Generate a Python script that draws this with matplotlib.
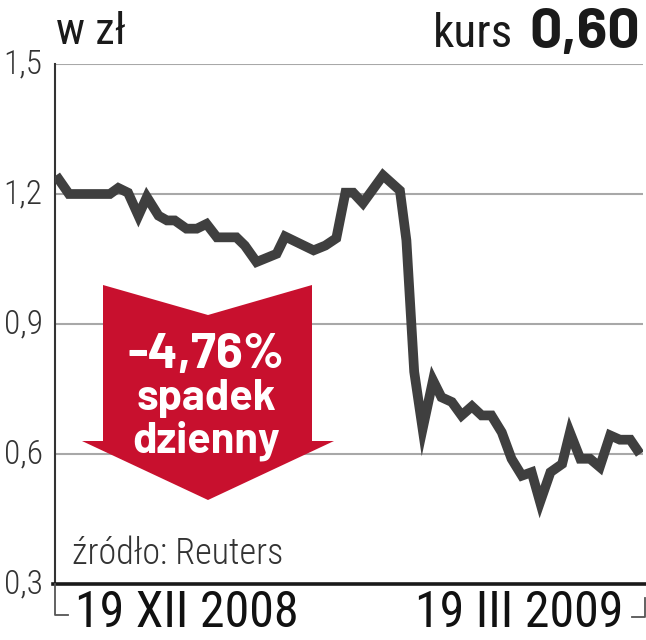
import matplotlib
matplotlib.use("Agg")
import matplotlib.pyplot as plt
from matplotlib.patches import Polygon
from matplotlib.lines import Line2D

# ---- data ----
days = [0, 2, 8.3, 9.6, 11.1, 12.7, 14, 15.8, 17.1, 18.3, 20.1, 21.7, 23.2, 24.8,
        27.8, 29.1, 30.9, 34, 35.3, 39.7, 41.5, 43.2, 44.6, 45.8, 47.3, 50.4, 53,
        54, 55.2, 56.5, 58.1, 59.4, 61, 62.5, 64.1, 65.6, 67.1, 68.7, 70.2, 71.8,
        73.3, 74.6, 76.2, 78, 79.2, 80.8, 82.3, 83.8, 85.4, 86.9, 88.5, 90]
prices = [1.243, 1.20, 1.20, 1.214, 1.203, 1.15, 1.193, 1.15, 1.139, 1.139, 1.12,
          1.12, 1.131, 1.10, 1.10, 1.081, 1.043, 1.062, 1.102, 1.07, 1.081, 1.098,
          1.203, 1.203, 1.179, 1.243, 1.208, 1.093, 0.79, 0.658, 0.770, 0.731,
          0.72, 0.689, 0.71, 0.689, 0.689, 0.65, 0.589, 0.55, 0.558, 0.489,
          0.558, 0.577, 0.65, 0.589, 0.589, 0.57, 0.643, 0.633, 0.633, 0.60]
yticks = [0.3, 0.6, 0.9, 1.2, 1.5]
ytick_labels = ["0,3", "0,6", "0,9", "1,2", "1,5"]
x_labels = ["19 XII 2008", "19 III 2009"]
unit_label = "w zł"
kurs_label = "kurs"
kurs_value = "0,60"
change_text = ["-4,76%", "spadek", "dzienny"]
source_text = "źródło: Reuters"

# ---- fonts ----
COND = ["Roboto Condensed", "DejaVu Sans"]
BOLDC = ["Barlow", "Roboto Condensed", "DejaVu Sans"]
plt.rcParams['font.family'] = COND

W, H = 646, 640
fig = plt.figure(figsize=(W / 100, H / 100), dpi=100)
def fx(px): return px / W
def fy(py): return 1 - py / H

ax = fig.add_axes([fx(55), fy(584), fx(643) - fx(55), fy(64) - fy(584)])
px_per_day = (640 - 56) / 90
ax.set_xlim((55 - 56) / px_per_day, (643 - 56) / px_per_day)
ax.set_ylim(0.3, 1.5)

for v in yticks[1:]:
    ax.axhline(v, color="#a8a8a8", lw=1.5, zorder=1)

ax.plot(days, prices, color="#3f3f3f", lw=7, solid_joinstyle="miter",
        solid_capstyle="butt", zorder=3)

for s in ["top", "right"]:
    ax.spines[s].set_visible(False)
ax.spines["left"].set_color("#333333")
ax.spines["left"].set_linewidth(1.5)
ax.spines["bottom"].set_visible(False)
ax.set_xticks([])
ax.set_yticks(yticks)
ax.set_yticklabels(ytick_labels, fontsize=24, color="#333333", fontweight=300)
ax.tick_params(axis="y", length=0, pad=9)
for lab in ax.get_yticklabels():
    lab.set_verticalalignment("center")

# bottom thick axis line extended to the figure edge
fig.add_artist(Line2D([fx(53), fx(646)], [fy(584), fy(584)], color="#1a1a1a", lw=2.6))
# brackets
fig.add_artist(Line2D([fx(55), fx(55), fx(68)], [fy(584), fy(615), fy(615)],
                      color="#555555", lw=1.3))
fig.add_artist(Line2D([fx(632), fx(645), fx(645)], [fy(617), fy(617), fy(598)],
                      color="#555555", lw=1.3))

# titles
fig.text(fx(56), fy(32), unit_label, fontsize=32, color="#1a1a1a", va="center", ha="left")
fig.text(fx(640), fy(34), kurs_value, fontsize=41, fontweight="bold", color="#1a1a1a",
         va="center", ha="right", family=BOLDC)
fig.text(fx(513), fy(34), kurs_label, fontsize=34, color="#1a1a1a", va="center", ha="right")

# x labels
fig.text(fx(187), fy(613), x_labels[0], fontsize=36, color="#111111", va="center", ha="center")
fig.text(fx(519), fy(613), x_labels[1], fontsize=36, color="#111111", va="center", ha="center")

# source
fig.text(fx(72), fy(554), source_text, fontsize=26, color="#333333", va="center",
         ha="left", fontweight=300)

# arrow
arrow_pts = [(103, 285), (208, 315), (312, 285), (312, 441), (334, 441),
             (208, 500), (82, 441), (103, 441)]
fig.add_artist(Polygon([(fx(x), fy(y)) for x, y in arrow_pts], closed=True,
                       facecolor="#c8102e", edgecolor="none", transform=fig.transFigure,
                       zorder=5))
ys = [355, 399, 441]
sizes = [36, 31, 31]
for t, y, s in zip(change_text, ys, sizes):
    fig.text(fx(206), fy(y), t, fontsize=s, fontweight="bold", color="white",
             ha="center", va="center", zorder=6, family=BOLDC)

fig.savefig("out.png", dpi=100)
